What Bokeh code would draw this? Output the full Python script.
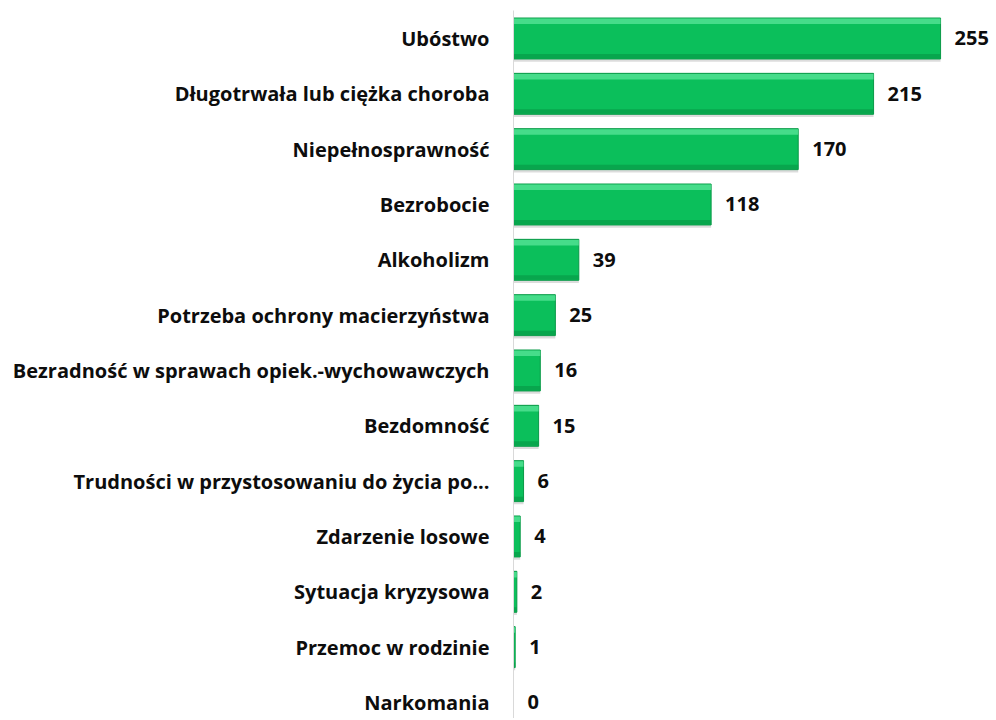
from bokeh.plotting import figure
from bokeh.models import Range1d, FixedTicker, ColumnDataSource
from bokeh.embed import file_html
from bokeh.resources import INLINE
from bokeh.core.properties import value

categories = [
    "Ubóstwo",
    "Długotrwała lub ciężka choroba",
    "Niepełnosprawność",
    "Bezrobocie",
    "Alkoholizm",
    "Potrzeba ochrony macierzyństwa",
    "Bezradność w sprawach opiek.-wychowawczych",
    "Bezdomność",
    "Trudności w przystosowaniu do życia po...",
    "Zdarzenie losowe",
    "Sytuacja kryzysowa",
    "Przemoc w rodzinie",
    "Narkomania",
]
values = [255, 215, 170, 118, 39, 25, 16, 15, 6, 4, 2, 1, 0]

pos = list(range(len(categories)))
bar_h = 0.74
src = ColumnDataSource(dict(
    y=pos,
    v=values,
    lbl=[str(v) for v in values],
    shadow_y=[p + 0.05 for p in pos],
    hl_y=[p - bar_h / 2 + 0.06 for p in pos],
    lo_y=[p + bar_h / 2 - 0.05 for p in pos],
))

p = figure(width=996, height=718, output_backend="svg", toolbar_location=None,
           x_range=Range1d(0, 288.4), y_range=Range1d(12.29, -0.506),
           min_border_left=513, min_border_right=0, min_border_top=10, min_border_bottom=0)

p.xaxis.visible = False
p.xgrid.visible = False
p.ygrid.visible = False
p.outline_line_color = None

# shadow
p.hbar(y="shadow_y", left=0, right="v", height=bar_h, source=src,
       fill_color="#9a9a9a", fill_alpha=0.35, line_color=None)
# main bar
p.hbar(y="y", left=0, right="v", height=bar_h, source=src,
       fill_color="#0bbf5b", line_color="#0a9a48", line_width=1)
# top highlight
p.hbar(y="hl_y", left=0, right="v", height=0.1, source=src,
       fill_color="#5fe89e", fill_alpha=0.7, line_color=None)
# bottom darker band
p.hbar(y="lo_y", left=0, right="v", height=0.08, source=src,
       fill_color="#07a04a", fill_alpha=0.8, line_color=None)

p.text(x="v", y="y", text="lbl", source=src, x_offset=14,
       text_align="left", text_baseline="middle",
       text_font=value("Open Sans"), text_font_style="bold",
       text_font_size="20px", text_color="#0d0d0d")

ax = p.yaxis[0]
ax.ticker = FixedTicker(ticks=pos)
ax.major_label_overrides = {i: c for i, c in enumerate(categories)}
ax.major_tick_line_color = None
ax.minor_tick_line_color = None
ax.axis_line_color = "#d9d9d9"
ax.axis_line_width = 1
ax.major_label_standoff = 18
ax.major_label_text_font = "Open Sans"
ax.major_label_text_font_style = "bold"
ax.major_label_text_font_size = "20px"
ax.major_label_text_color = "#0d0d0d"

open("out.html", "w").write(file_html(p, INLINE))
